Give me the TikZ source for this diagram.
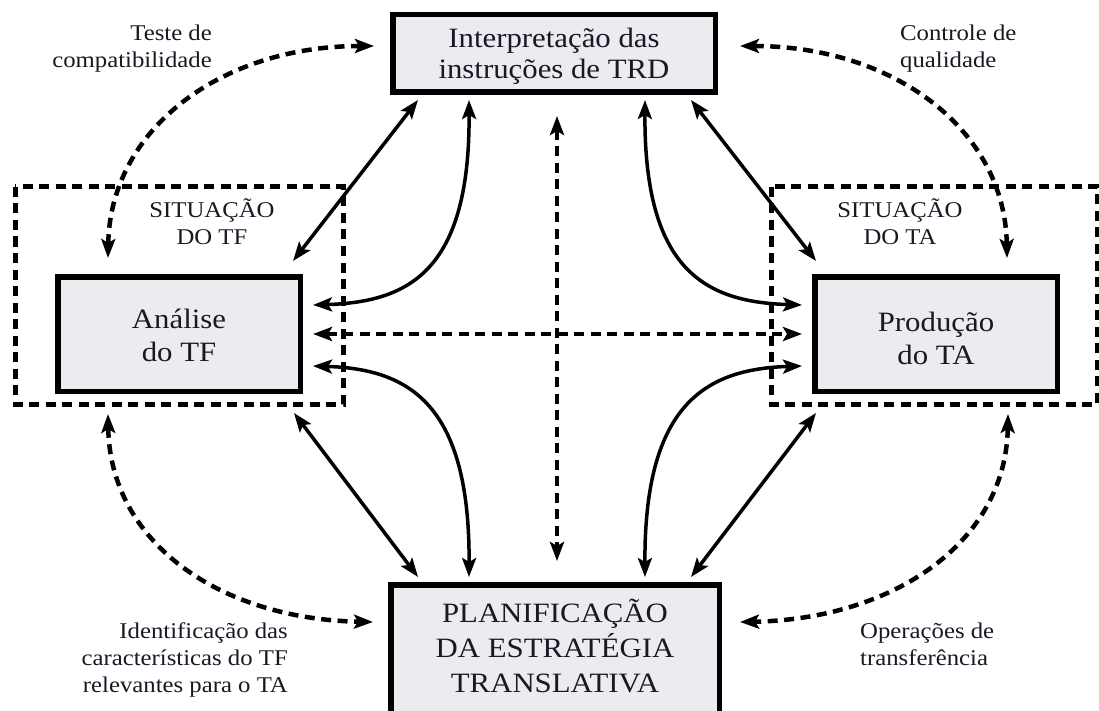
\documentclass[tikz,border=0pt]{standalone}
\usepackage{fontspec}
\setmainfont{Liberation Serif}[FakeStretch=1.1]
\usetikzlibrary{arrows.meta}
\definecolor{boxfill}{RGB}{235,236,239}
\definecolor{ink}{RGB}{25,25,38}
\begin{document}
\begin{tikzpicture}[x=1pt,y=-1pt,
  >={Stealth[length=19pt,width=14pt,inset=4pt]},
  box/.style={draw=black, line width=5.5pt, fill=boxfill, inner sep=0pt},
  situ/.style={draw=black, line width=5pt, dash pattern=on 10pt off 6.5pt},
  sarr/.style={line width=3.5pt, <->},
  darr/.style={line width=4.5pt, dash pattern=on 10pt off 6.5pt, <->},
  bigtxt/.style={text=ink, align=center, inner sep=0pt, font=\fontsize{28}{31}\selectfont},
  smalltxt/.style={text=ink, inner sep=0pt, font=\fontsize{22.5}{27}\selectfont},
]
\clip (0,0) rectangle (1099,711);
\fill[white] (0,0) rectangle (1099,711);

% situation frames
\draw[situ] (15,187) rectangle (343,404);
\draw[situ] (771,187) rectangle (1097,404);

% boxes
\node[box, minimum width=322.5pt, minimum height=77.5pt] (trd) at (554,53.5) {};
\node[box, minimum width=242.5pt, minimum height=114.5pt] (tf) at (179,334) {};
\node[box, minimum width=242.5pt, minimum height=114.5pt] (ta) at (936,334) {};
\node[box, minimum width=328.5pt, minimum height=130.5pt] (plan) at (555,650) {};

% straight solid arrows
\draw[sarr] ([xshift=-136pt,yshift=-5pt]trd.south) -- ([xshift=-10pt,yshift=13pt]tf.north east);
\draw[sarr] ([xshift=137pt,yshift=-5pt]trd.south) -- ([xshift=4pt,yshift=13pt]ta.north west);
\draw[sarr] ([xshift=-9pt,yshift=-19pt]tf.south east) -- ([xshift=-137pt,yshift=5pt]plan.north);
\draw[sarr] ([xshift=4pt,yshift=-19pt]ta.south west) -- ([xshift=136pt,yshift=5pt]plan.north);

% curved solid arrows
\draw[sarr] ([xshift=-85pt,yshift=-5pt]trd.south) .. controls +(1,170) and +(97,-3) .. ([xshift=10pt,yshift=29pt]tf.east);
\draw[sarr] ([xshift=91pt,yshift=-5pt]trd.south) .. controls +(-1,170) and +(-97,-3) .. ([xshift=-10pt,yshift=29pt]ta.west);
\draw[sarr] ([xshift=-86pt,yshift=5pt]plan.north) .. controls +(1,-172) and +(97,3) .. ([xshift=10pt,yshift=-32pt]tf.east);
\draw[sarr] ([xshift=90pt,yshift=5pt]plan.north) .. controls +(-1,-172) and +(-97,3) .. ([xshift=-10pt,yshift=-32pt]ta.west);

% dashed arrows
\draw[darr] ([xshift=10pt]tf.east) -- ([xshift=-10pt]ta.west);
\draw[darr] ([xshift=3pt,yshift=-21pt]trd.south) -- ([xshift=2pt,yshift=21pt]plan.north);
\draw[darr] ([xshift=-71pt,yshift=16pt]tf.north) .. controls +(2,-128) and +(-154,0) .. ([xshift=-16pt,yshift=7.5pt]trd.west);
\draw[darr] ([xshift=71pt,yshift=16pt]ta.north) .. controls +(-2,-128) and +(154,0) .. ([xshift=22pt,yshift=7.5pt]trd.east);
\draw[darr] ([xshift=-71pt,yshift=-20pt]tf.south) .. controls +(2,128) and +(-154,-3) .. ([xshift=-15pt,yshift=28pt]plan.west);
\draw[darr] ([xshift=72pt,yshift=-20pt]ta.south) .. controls +(-2,128) and +(154,-3) .. ([xshift=18pt,yshift=28pt]plan.east);

% box texts
\node[bigtxt] (trdt) at (554,56) {Interpretação das\\instruções de TRD};
\node[bigtxt, font=\fontsize{28}{33}\selectfont] (tft) at (179,335) {Análise\\do TF};
\node[bigtxt, font=\fontsize{28}{33}\selectfont] (tat) at (936,338) {Produção\\do TA};
\node[bigtxt, font=\fontsize{28}{35}\selectfont] (plant) at (555,646) {PLANIFICAÇÃO\\DA ESTRATÉGIA\\TRANSLATIVA};

% labels
\node[smalltxt, align=right, anchor=east] (l1) at (212,48.7) {Teste de\\compatibilidade};
\node[smalltxt, align=left, anchor=west] (l2) at (900,48.8) {Controle de\\qualidade};
\node[smalltxt, align=right, anchor=east] (l3) at (288,660) {Identificação das\\características do TF\\relevantes para o TA};
\node[smalltxt, align=left, anchor=west] (l4) at (860,644) {Operações de\\transferência};
\node[smalltxt, align=center] (s1) at (212,221.7) {SITUAÇÃO\\DO TF};
\node[smalltxt, align=center] (s2) at (900,221.7) {SITUAÇÃO\\DO TA};
\end{tikzpicture}
\end{document}
